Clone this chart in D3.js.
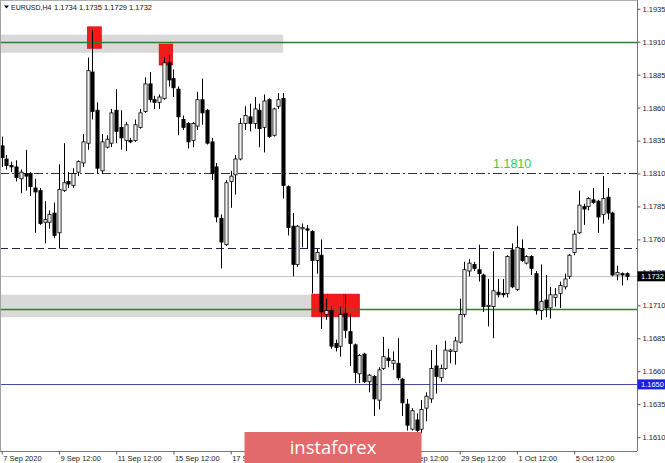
<!DOCTYPE html>
<html><head><meta charset="utf-8">
<script src="https://cdn.jsdelivr.net/npm/d3@7"></script>
<style>
html,body{margin:0;padding:0;background:#fff;}
svg{display:block;}
</style></head>
<body>
<svg id="chart" width="665" height="463"></svg>
<script>
// ---- data (EURUSD H4) ----
const symbolTitle = "EURUSD,H4";
const lastOHLC = "1.1734 1.1735 1.1729 1.1732";
const open  = [1.1831,1.1821,1.1816,1.1815,1.1806,1.1810,1.1810,1.1799,1.1797,1.1773,1.1773,1.1780,1.1765,1.1797,1.1804,1.1801,1.1811,1.1818,1.1833,1.1887,
1.1858,1.1812,1.1830,1.1833,1.1858,1.1845,1.1835,1.1835,1.1835,1.1845,1.1857,1.1878,1.1866,1.1864,1.1867,1.1894,1.1882,1.1874,1.1851,1.1848,
1.1835,1.1846,1.1866,1.1858,1.1834,1.1815,1.1776,1.1756,1.1804,1.1809,1.1821,1.1848,1.1853,1.1848,1.1858,1.1845,1.1866,1.1839,1.1861,1.1867,
1.1800,1.1770,1.1741,1.1768,1.1768,1.1766,1.1744,1.1748,1.1703,1.1706,1.1681,1.1679,1.1704,1.1690,1.1680,1.1658,1.1673,1.1652,1.1656,1.1638,
1.1662,1.1670,1.1666,1.1666,1.1654,1.1635,1.1616,1.1623,1.1616,1.1632,1.1639,1.1664,1.1655,1.1662,1.1675,1.1675,1.1682,1.1703,1.1736,1.1741,
1.1737,1.1733,1.1709,1.1709,1.1720,1.1719,1.1719,1.1752,1.1722,1.1753,1.1742,1.1747,1.1734,1.1706,1.1714,1.1708,1.1716,1.1719,1.1724,1.1732,
1.1750,1.1765,1.1785,1.1785,1.1790,1.1789,1.1779,1.1792,1.1780,1.1733,1.1734,1.1734];
const high  = [1.1838,1.1824,1.1819,1.1820,1.1813,1.1828,1.1811,1.1806,1.1799,1.1789,1.1782,1.1788,1.1817,1.1833,1.1811,1.1814,1.1820,1.1840,1.1898,1.1919,
1.1864,1.1840,1.1839,1.1859,1.1874,1.1858,1.1849,1.1837,1.1851,1.1859,1.1883,1.1887,1.1869,1.1870,1.1898,1.1900,1.1889,1.1876,1.1854,1.1849,
1.1849,1.1872,1.1882,1.1859,1.1837,1.1818,1.1779,1.1805,1.1812,1.1824,1.1852,1.1861,1.1863,1.1868,1.1863,1.1870,1.1867,1.1860,1.1871,1.1871,
1.1801,1.1780,1.1771,1.1772,1.1771,1.1767,1.1753,1.1760,1.1715,1.1709,1.1684,1.1709,1.1718,1.1703,1.1681,1.1673,1.1674,1.1658,1.1657,1.1663,
1.1686,1.1677,1.1675,1.1685,1.1655,1.1639,1.1632,1.1628,1.1638,1.1644,1.1676,1.1680,1.1665,1.1683,1.1677,1.1686,1.1715,1.1743,1.1745,1.1743,
1.1756,1.1734,1.1730,1.1751,1.1730,1.1730,1.1748,1.1757,1.1770,1.1760,1.1748,1.1748,1.1736,1.1741,1.1733,1.1724,1.1723,1.1728,1.1734,1.1749,
1.1767,1.1797,1.1787,1.1792,1.1799,1.1790,1.1808,1.1799,1.1781,1.1740,1.1735,1.1735];
const low   = [1.1815,1.1813,1.1811,1.1804,1.1795,1.1797,1.1793,1.1765,1.1771,1.1757,1.1768,1.1761,1.1753,1.1796,1.1799,1.1799,1.1808,1.1815,1.1828,1.1851,
1.1810,1.1810,1.1829,1.1830,1.1833,1.1828,1.1827,1.1833,1.1834,1.1844,1.1856,1.1864,1.1859,1.1859,1.1866,1.1876,1.1868,1.1839,1.1843,1.1829,
1.1830,1.1843,1.1847,1.1832,1.1805,1.1773,1.1738,1.1755,1.1784,1.1794,1.1820,1.1843,1.1842,1.1844,1.1830,1.1826,1.1837,1.1838,1.1859,1.1791,
1.1763,1.1732,1.1739,1.1754,1.1753,1.1719,1.1734,1.1692,1.1699,1.1677,1.1675,1.1671,1.1685,1.1664,1.1651,1.1651,1.1651,1.1644,1.1626,1.1631,
1.1661,1.1663,1.1661,1.1653,1.1626,1.1615,1.1615,1.1614,1.1613,1.1622,1.1636,1.1643,1.1652,1.1661,1.1666,1.1665,1.1681,1.1701,1.1732,1.1736,
1.1728,1.1705,1.1694,1.1685,1.1716,1.1716,1.1716,1.1723,1.1721,1.1743,1.1741,1.1733,1.1703,1.1699,1.1701,1.1700,1.1709,1.1708,1.1722,1.1730,
1.1748,1.1764,1.1771,1.1782,1.1787,1.1765,1.1772,1.1775,1.1732,1.1729,1.1725,1.1729];
const close = [1.1822,1.1816,1.1815,1.1807,1.1811,1.1808,1.1800,1.1796,1.1772,1.1775,1.1779,1.1763,1.1798,1.1803,1.1802,1.1810,1.1819,1.1834,1.1888,1.1857,
1.1814,1.1834,1.1836,1.1856,1.1842,1.1837,1.1847,1.1834,1.1847,1.1856,1.1878,1.1866,1.1864,1.1868,1.1894,1.1881,1.1875,1.1853,1.1845,1.1834,
1.1848,1.1866,1.1856,1.1833,1.1810,1.1777,1.1758,1.1803,1.1808,1.1821,1.1848,1.1854,1.1848,1.1859,1.1844,1.1865,1.1838,1.1859,1.1866,1.1801,
1.1769,1.1741,1.1770,1.1769,1.1767,1.1744,1.1750,1.1705,1.1706,1.1679,1.1678,1.1703,1.1691,1.1681,1.1659,1.1672,1.1652,1.1657,1.1639,1.1661,
1.1671,1.1668,1.1668,1.1655,1.1636,1.1619,1.1630,1.1615,1.1631,1.1641,1.1662,1.1656,1.1662,1.1676,1.1676,1.1683,1.1703,1.1737,1.1742,1.1738,
1.1734,1.1709,1.1710,1.1721,1.1718,1.1718,1.1747,1.1724,1.1754,1.1744,1.1747,1.1738,1.1706,1.1713,1.1708,1.1718,1.1718,1.1725,1.1730,1.1748,
1.1764,1.1786,1.1783,1.1791,1.1788,1.1777,1.1791,1.1780,1.1733,1.1735,1.1733,1.1732];

// time axis: one label every 12 bars
const timeTickIndex = [0,12,24,36,48,60,72,84,96,108,120];
const timeTickLabels = ["7 Sep 2020","9 Sep 12:00","11 Sep 12:00","15 Sep 12:00","17 Sep 12:00","21 Sep 12:00","23 Sep 12:00","25 Sep 12:00","29 Sep 12:00","1 Oct 12:00","5 Oct 12:00"];
const priceTicks = [1.1935,1.1910,1.1885,1.1860,1.1835,1.1810,1.1785,1.1760,1.1735,1.1710,1.1685,1.1660,1.1635,1.1610];

// drawn objects (levels and zones), expressed in bar index / price
const zoneFrom = [-0.4, -0.4];
const zoneTo   = [59, 65];
const zoneTop  = [1.19153, 1.1718];
const zoneBot  = [1.19016, 1.1701];
const markFrom = [17.95, 33.0, 65.0, 68.3, 71.7];
const markTo   = [20.9, 35.85, 68.3, 71.7, 75.0];
const markTop  = [1.19213, 1.19082, 1.17185, 1.17185, 1.17185];
const markBot  = [1.19050, 1.18923, 1.17013, 1.17013, 1.17013];
const supportResist = [1.1910, 1.1707];
const targetLevel = 1.1810;
const dashedLevel = 1.17532;
const blueLevel = 1.1650;
const bidPrice = 1.1732;
const targetText = "1.1810";
const targetTextBar = 103;
const watermark = "instaforex";

// ---- drawing ----
const svg = d3.select("#chart");
const plotRight = 637, plotBottom = 451;
const n = open.length;
const x = d3.scaleLinear().domain([0, n - 1]).range([1.7, 626.6]);
const y = d3.scaleLinear().domain([1.1610, 1.1935]).range([437.1, 8.75]);
const font = "'Liberation Sans', Arial, sans-serif";

svg.append("rect").attr("width",665).attr("height",463).attr("fill","#fff");
svg.append("defs").append("clipPath").attr("id","plotclip")
  .append("rect").attr("x",0).attr("y",0).attr("width",plotRight).attr("height",plotBottom);
const plot = svg.append("g").attr("clip-path","url(#plotclip)");

// zones
plot.selectAll("rect.zone").data(zoneFrom).join("rect").attr("class","zone")
  .attr("x", (d,i)=>Math.max(0,x(zoneFrom[i])))
  .attr("width",(d,i)=>x(zoneTo[i]) - Math.max(0,x(zoneFrom[i])))
  .attr("y",(d,i)=>y(zoneTop[i]))
  .attr("height",(d,i)=>y(zoneBot[i]) - y(zoneTop[i]))
  .attr("fill","#d9d9d9");

plot.selectAll("rect.mark").data(markFrom).join("rect").attr("class","mark")
  .attr("x",(d,i)=>x(markFrom[i]))
  .attr("width",(d,i)=>x(markTo[i]) - x(markFrom[i]))
  .attr("y",(d,i)=>y(markTop[i]))
  .attr("height",(d,i)=>y(markBot[i]) - y(markTop[i]))
  .attr("fill","#f21a1a").attr("stroke","#d40000").attr("stroke-width",0.6);

// levels
function hline(p, color, width, dash){
  const l = plot.append("line").attr("x1",0).attr("x2",plotRight)
    .attr("y1",Math.round(y(p))+0.5).attr("y2",Math.round(y(p))+0.5)
    .attr("stroke",color).attr("stroke-width",width);
  if (dash) l.attr("stroke-dasharray",dash);
}
hline(bidPrice, "#c4c4c4", 1);
supportResist.forEach(p => hline(p, "#2f7d2f", 1.6));
hline(targetLevel, "#333", 1, "9,3,2,3");
hline(dashedLevel, "#23234a", 1, "8,4");
hline(blueLevel, "#4a4aa8", 1);

// candles
const idx = d3.range(n);
const bw = 3.2;
plot.selectAll("line.wick").data(idx).join("line").attr("class","wick")
  .attr("x1",i=>Math.round(x(i))+0.5).attr("x2",i=>Math.round(x(i))+0.5)
  .attr("y1",i=>y(high[i])).attr("y2",i=>y(low[i]))
  .attr("stroke","#000").attr("stroke-width",1);
plot.selectAll("rect.body").data(idx).join("rect").attr("class","body")
  .attr("x",i=>Math.round(x(i))+0.5-bw/2)
  .attr("width",bw)
  .attr("y",i=>y(Math.max(open[i],close[i])))
  .attr("height",i=>Math.max(1,Math.abs(y(open[i])-y(close[i]))))
  .attr("fill",i=>close[i]>=open[i] ? "#f2f2f2" : "#000")
  .attr("stroke","#000").attr("stroke-width",0.8);

// target label
plot.append("text").attr("x",x(targetTextBar)).attr("y",168)
  .attr("font-family",font).attr("font-size",12.5).attr("fill","#3ccc3c")
  .text(targetText);

// frame
svg.append("line").attr("x1",0).attr("x2",plotRight).attr("y1",0.5).attr("y2",0.5).attr("stroke","#b0b0b0");
svg.append("line").attr("x1",0.5).attr("x2",0.5).attr("y1",0).attr("y2",plotBottom).attr("stroke","#a0a0a0");

// right axis
const yAxis = d3.axisRight(y).tickValues(priceTicks).tickFormat(d3.format(".4f")).tickSize(3).tickPadding(2);
const gy = svg.append("g").attr("transform",`translate(${plotRight+0.5},0)`).call(yAxis);
gy.select(".domain").attr("d",`M0,0V${plotBottom}`).attr("stroke","#777");
gy.selectAll(".tick line").attr("stroke","#555");
gy.selectAll("text").attr("font-family",font).attr("font-size",7.5).attr("fill","#222");

// bottom axis
const xAxis = d3.axisBottom(x).tickValues(timeTickIndex)
  .tickFormat((d,i)=>timeTickLabels[i]).tickSize(3);
const gx = svg.append("g").attr("transform",`translate(0,${plotBottom+0.5})`).call(xAxis);
gx.select(".domain").attr("d",`M0,0H${plotRight}`).attr("stroke","#777");
gx.selectAll(".tick line").attr("stroke","#555");
gx.selectAll("text").attr("font-family",font).attr("font-size",7.5).attr("fill","#222")
  .attr("text-anchor","start").attr("x",1).attr("y",4).attr("dy","0.71em");

// price labels on right axis
function priceTag(p, bg){
  const yy = y(p);
  svg.append("rect").attr("x",plotRight+0.5).attr("y",yy-5).attr("width",665-plotRight).attr("height",10).attr("fill",bg);
  svg.append("text").attr("x",plotRight+4).attr("y",yy+2.8).attr("font-family",font).attr("font-size",7.5)
    .attr("fill","#fff").text(d3.format(".4f")(p));
}
priceTag(bidPrice, "#000");
priceTag(blueLevel, "#1d1df0");

// header
svg.append("path").attr("d","M4,5.5 L9,5.5 L6.5,8.5 Z").attr("fill","#000");
svg.append("text").attr("x",11).attr("y",9.5).attr("font-family",font).attr("font-size",7).attr("fill","#111").text(symbolTitle);
svg.append("text").attr("x",54).attr("y",9.5).attr("font-family",font).attr("font-size",7.5).attr("fill","#111")
  .attr("xml:space","preserve").text(lastOHLC);

// watermark
svg.append("rect").attr("x",244.5).attr("y",432).attr("width",177).attr("height",31).attr("fill","#e36a6a");
svg.append("text").attr("x",333).attr("y",453.5).attr("text-anchor","middle")
  .attr("font-family","'Open Sans', sans-serif").attr("font-size",18.5).attr("fill","#fff").text(watermark);
</script>
</body></html>
